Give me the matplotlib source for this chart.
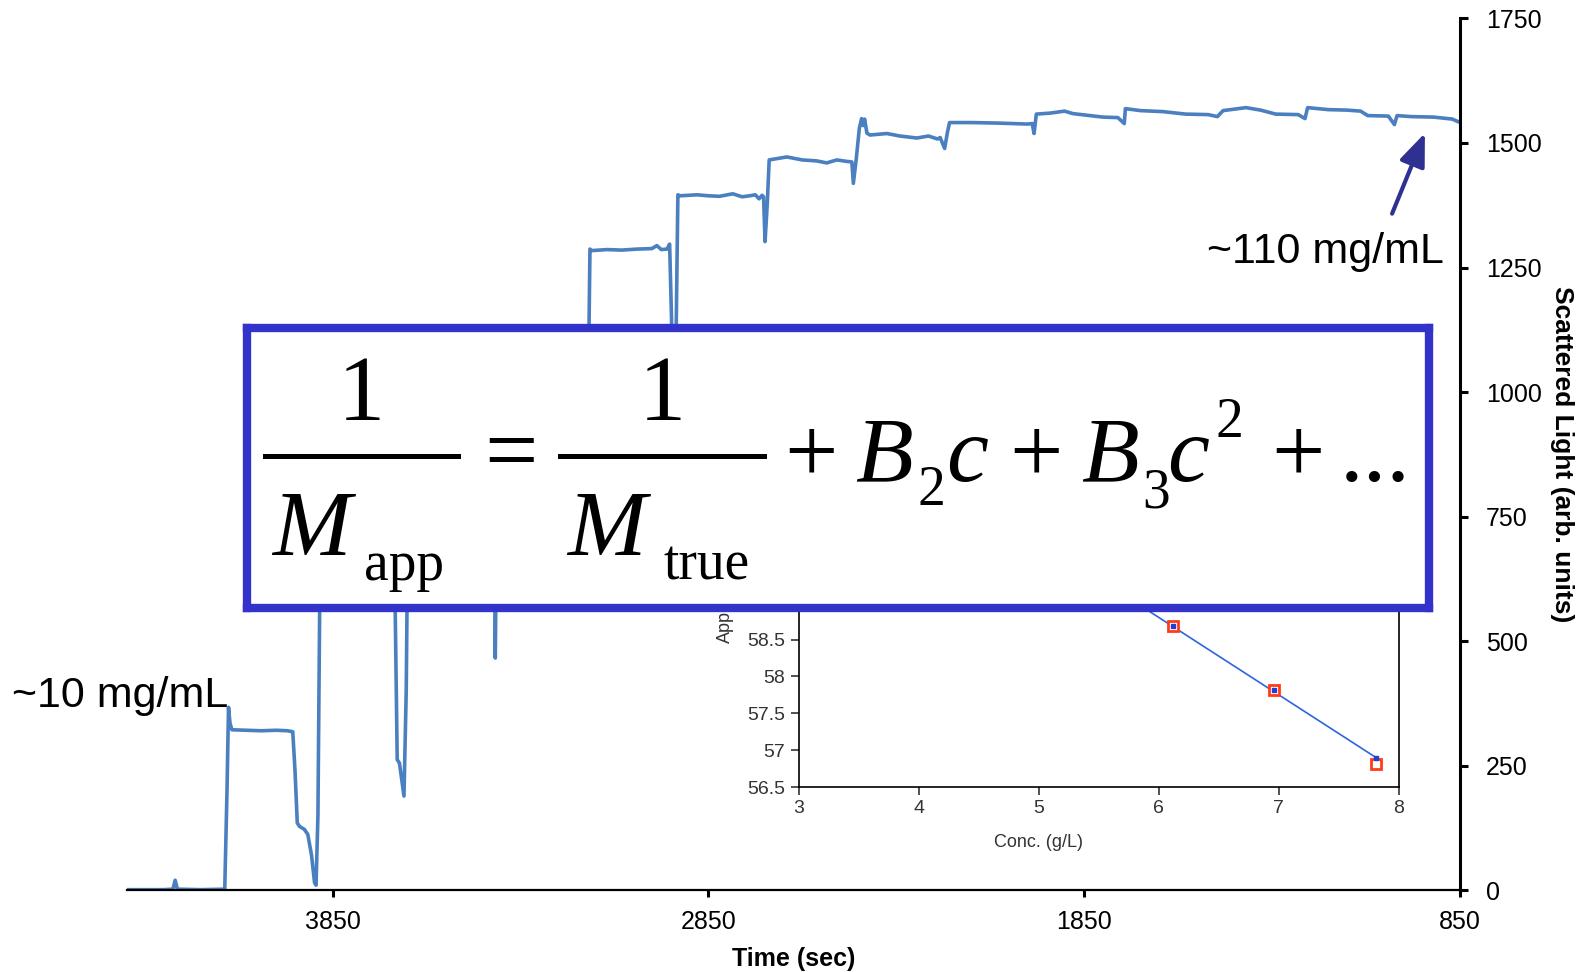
import matplotlib
matplotlib.use("Agg")
import matplotlib.pyplot as plt
from matplotlib.lines import Line2D

plt.rcParams['font.family'] = ['Liberation Sans', 'DejaVu Sans']

# scattered light trace (time runs backwards on the axis)
time_s = [4396, 4300, 4275, 4269, 4263, 4200, 4137, 4131, 4127, 4123, 4118, 4080, 4040, 4000,
          3970, 3956, 3950, 3944, 3938, 3925, 3916, 3906, 3898, 3894, 3889, 3884, 3880, 3860,
          3800, 3740, 3690, 3684, 3678, 3672, 3660, 3654, 3649, 3645, 3600, 3500, 3425, 3419,
          3417, 3414, 3410, 3405, 3350, 3250, 3180, 3176, 3172, 3168, 3165, 3160, 3120, 3080,
          3040, 3000, 2987, 2975, 2960, 2953, 2948, 2942, 2936, 2931, 2925, 2880, 2850, 2820,
          2785, 2760, 2740, 2725, 2715, 2707, 2703, 2699, 2693, 2688, 2680, 2641, 2600, 2561,
          2535, 2508, 2481, 2468, 2464, 2456, 2448, 2442, 2438, 2434, 2428, 2420, 2375, 2340,
          2295, 2264, 2240, 2233, 2221, 2214, 2208, 2150, 2080, 2000, 1988, 1983, 1977, 1940,
          1902, 1880, 1800, 1760, 1743, 1740, 1700, 1640, 1580, 1520, 1495, 1480, 1419, 1380,
          1340, 1280, 1262, 1255, 1200, 1150, 1114, 1095, 1040, 1024, 1017, 980, 920, 870, 852]
signal = [1, 1, 2, 20, 2, 1, 2, 200, 367, 335, 322, 321, 320, 321,
          320, 318, 240, 135, 128, 122, 112, 70, 15, 10, 150, 600, 730, 740,
          742, 745, 744, 600, 262, 255, 189, 400, 800, 950, 955, 960, 958, 700,
          466, 700, 1000, 1070, 1075, 1080, 1082, 950, 900, 1100, 1287, 1284, 1286, 1285,
          1287, 1288, 1294, 1286, 1287, 1297, 1150, 900, 1100, 1396, 1394, 1396, 1394, 1393,
          1398, 1392, 1394, 1396, 1388, 1395, 1392, 1302, 1380, 1466, 1467, 1472, 1466, 1464,
          1460, 1466, 1463, 1462, 1419, 1470, 1530, 1549, 1535, 1548, 1520, 1516, 1519, 1514,
          1510, 1514, 1508, 1511, 1489, 1520, 1541, 1541, 1540, 1538, 1539, 1519, 1558, 1560,
          1564, 1559, 1552, 1551, 1539, 1569, 1565, 1563, 1558, 1557, 1553, 1565, 1571, 1566,
          1558, 1557, 1549, 1571, 1567, 1566, 1564, 1555, 1554, 1537, 1555, 1553, 1552, 1548, 1542]

x_ticks = [3850, 2850, 1850, 850]
y_ticks = [0, 250, 500, 750, 1000, 1250, 1500, 1750]

# inset: apparent mass vs concentration
conc = [6.12, 6.96, 7.81]
mass_meas = [58.69, 57.82, 56.81]
mass_fit = [58.69, 57.81, 56.90]
fit_conc = [5.0, 7.81]
fit_mass = [59.85, 56.90]

line_col = '#4a7fc0'
box_col = '#3333cc'

fig = plt.figure(figsize=(15.85, 9.72), dpi=100)
ax = fig.add_axes([0.0804, 0.0842, 0.8406, 0.8968])
ax.plot(time_s, signal, color=line_col, lw=2.6)
ax.set_xlim(4396, 850)
ax.set_ylim(0, 1750)
ax.set_xticks(x_ticks)
ax.set_yticks(y_ticks)
for s in ['top', 'left']:
    ax.spines[s].set_visible(False)
ax.spines['bottom'].set_linewidth(1.6)
ax.spines['right'].set_linewidth(2.2)
ax.yaxis.tick_right()
ax.tick_params(axis='y', direction='out', length=6, width=2.2, labelsize=18, pad=13)
ax.tick_params(axis='x', direction='out', length=5, width=2.2, labelsize=18, pad=9)
ax.set_xlabel('Time (sec)', fontsize=18, fontweight='bold')
ax.xaxis.set_label_coords(0.5, -0.079)
ax.xaxis.label.set_va('center')
ax.yaxis.set_label_position('right')
ax.set_ylabel('Scattered Light (arb. units)', fontsize=19, fontweight='bold',
              rotation=270, va='center', ha='center')
ax.yaxis.set_label_coords(1.077, 0.5)

ax.annotate('', xy=(940, 1525), xytext=(1033, 1353),
            arrowprops=dict(arrowstyle='-|>,head_length=0.8,head_width=0.32',
                            color='#2e3192', lw=3, mutation_scale=25),
            annotation_clip=False)
fig.text(0.0077, 0.2723, '~10 mg/mL', fontsize=31, ha='left', va='baseline')
fig.text(0.911, 0.7297, '~110 mg/mL', fontsize=31, ha='right', va='baseline')

# inset
axi = fig.add_axes([0.5038, 0.1902, 0.3788, 0.2277])
axi.plot(fit_conc, fit_mass, color='#2f63e0', lw=1.2)
axi.plot(conc, mass_meas, 's', ms=7, mfc='white', mec='#ff3b1a', mew=2)
axi.plot(conc, mass_fit, 's', ms=3, color='#2040d0')
axi.set_xlim(3, 8)
axi.set_ylim(56.5, 59.5)
axi.set_xticks([3, 4, 5, 6, 7, 8])
axi.set_yticks([56.5, 57, 57.5, 58, 58.5, 59])
axi.set_yticklabels(['56.5', '57', '57.5', '58', '58.5', '59'])
axi.spines['top'].set_visible(False)
for s in ['left', 'bottom', 'right']:
    axi.spines[s].set_linewidth(1.2)
axi.tick_params(labelsize=14, colors='#333333', length=6, width=1.2)
axi.set_xlabel('Conc. (g/L)', fontsize=13, color='#333333', labelpad=10)
axi.xaxis.set_label_coords(0.40, -0.21)
axi.text(-0.121, 0.653, 'App', transform=axi.transAxes,
         rotation=90, ha='center', va='bottom', fontsize=13, color='#333333')

# equation box on top
axb = fig.add_axes([0.1556, 0.3742, 0.7462, 0.2880])
axb.set_xticks([])
axb.set_yticks([])
axb.set_facecolor('white')
for s in axb.spines.values():
    s.set_color(box_col)
    s.set_linewidth(6)

W, H = 1585.0, 972.0


def eq(x, y, s, size=68, style='normal', ha='left'):
    fig.text(x / W, 1 - y / H, s, fontsize=size, family='Liberation Serif',
             style=style, ha=ha, va='baseline')


def bar(x0, x1, y):
    fig.add_artist(Line2D([x0 / W, x1 / W], [1 - y / H, 1 - y / H],
                          transform=fig.transFigure, color='black', lw=3.6))


eq(361, 420, '1', ha='center')
bar(265, 458, 456)
eq(272, 555, 'M', style='italic')
eq(364, 580, 'app', size=40)
eq(511, 481, '=', ha='center')
eq(662, 420, '1', ha='center')
bar(560, 764, 456)
eq(567, 555, 'M', style='italic')
eq(664, 580, 'true', size=40)
eq(811, 481, '+', ha='center')
eq(855, 481, 'B', style='italic')
eq(917, 505, '2', size=40)
eq(946, 481, 'c', style='italic')
eq(1036, 481, '+', ha='center')
eq(1081, 481, 'B', style='italic')
eq(1142, 507, '3', size=40)
eq(1167, 481, 'c', style='italic')
eq(1216, 437, '2', size=40)
eq(1298, 481, '+', ha='center')
eq(1340, 481, '...')

fig.savefig('out.png', dpi=100)
